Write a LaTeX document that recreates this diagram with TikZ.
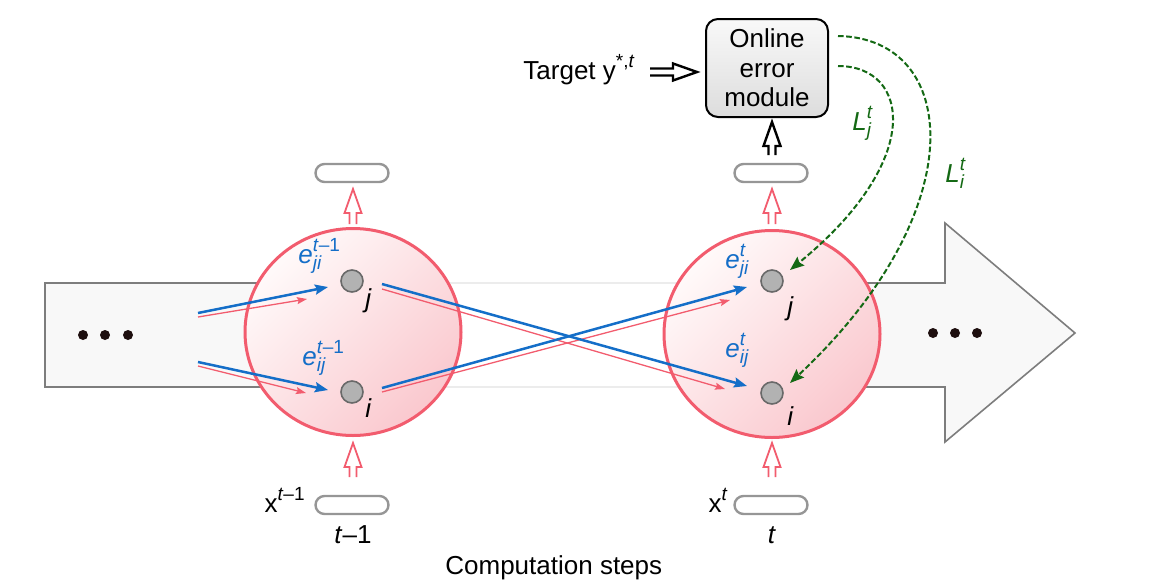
\documentclass[tikz,border=0pt]{standalone}
\usepackage{fontspec}
\setmainfont{Liberation Sans}
\usetikzlibrary{arrows.meta,shapes.geometric,calc}

\definecolor{pinkc}{RGB}{242,92,110}
\definecolor{bluec}{RGB}{20,110,200}
\definecolor{greenc}{RGB}{20,105,20}
\definecolor{arrowgray}{RGB}{125,125,125}
\definecolor{arrowfill}{RGB}{248,248,248}
\definecolor{faintgray}{RGB}{236,236,236}
\definecolor{circA}{RGB}{255,250,250}
\definecolor{circB}{RGB}{250,200,206}
\definecolor{nodefill}{RGB}{178,178,178}
\definecolor{nodeedge}{RGB}{105,105,105}
\definecolor{pillgray}{RGB}{150,150,150}
\definecolor{dotc}{RGB}{30,15,15}

\newdimen\SSw
\newcommand\SupSub[3]{#1\setbox0=\hbox{\fontsize{9.5}{10}\selectfont #2}\setbox2=\hbox{\fontsize{9.5}{10}\selectfont #3}%
\ifdim\wd0>\wd2 \SSw=\wd0 \else \SSw=\wd2 \fi
\rlap{\raisebox{6pt}{\box0}}\rlap{\raisebox{-3.2pt}{\box2}}\hskip\SSw}
\newcommand\Sup[1]{\raisebox{5.8pt}{\fontsize{9.5}{10}\selectfont #1}}
\newcommand\openarr[4]{\begin{scope}[shift={#1},rotate=#2]
\draw[#4] (0,-3.5) -- (#3,-3.5) -- (#3,-8.5) -- ({#3+24},0) -- (#3,8.5) -- (#3,3.5) -- (0,3.5);
\end{scope}}

\tikzset{
  bigarrow/.style={draw=arrowgray, line width=0.8pt, fill=arrowfill},
  bigcirc/.style={ellipse, minimum width=108pt, minimum height=103.5pt, draw=pinkc, line width=1.5pt,
     top color=circA, bottom color=circB, shading angle=45, inner sep=0},
  unit/.style={circle, minimum size=11pt, inner sep=0, fill=nodefill, draw=nodeedge, line width=0.8pt},
  pill/.style={rectangle, rounded corners=4.5pt, minimum width=36.5pt, minimum height=9pt, draw=pillgray,
     line width=1.2pt, fill=white, inner sep=0},
  errbox/.style={rectangle, rounded corners=6pt, minimum width=61pt, minimum height=49pt, draw=black,
     line width=1pt, top color=gray!5, bottom color=gray!27, inner sep=0, align=center,
     font=\fontsize{13}{14.8}\selectfont},
  dot/.style={circle, fill=dotc, minimum size=5pt, inner sep=0},
  lbl/.style={inner sep=0, anchor=base west},
  blueline/.style={draw=bluec, line width=1.25pt, -{Stealth[length=6.5pt,width=5pt,inset=1pt]}},
  pinkline/.style={draw=pinkc, line width=0.65pt, -{Stealth[length=5pt,width=3.5pt,inset=0.8pt]}},
  greenarr/.style={draw=greenc, line width=1pt, dash pattern=on 2.8pt off 1.3pt,
     -{Stealth[length=7pt,width=5.5pt,inset=1pt]}},
  pinkopen/.style={draw=pinkc, line width=0.9pt, fill=white},
  blackopen/.style={draw=black, line width=1.2pt, fill=white},
}

\begin{document}
\begin{tikzpicture}[x=0.5pt,y=-0.5pt, font=\fontsize{13}{15}\selectfont]
\useasboundingbox (0,0) rectangle (1167,584);

% big background arrow
\draw[bigarrow] (354,283) -- (45,283) -- (45,387) -- (354,387);
\draw[faintgray, line width=0.8pt] (354,283) -- (772,283) (354,387) -- (772,387);
\draw[bigarrow] (772,283) -- (945,283) -- (945,223) -- (1075,333) -- (945,442) -- (945,387) -- (772,387);
\node[dot] (d1) at (83,335) {};
\node[dot] (d2) at (105,335) {};
\node[dot] (d3) at (128,335) {};
\node[dot] (d4) at (933,333) {};
\node[dot] (d5) at (955,333) {};
\node[dot] (d6) at (977,333) {};

% computation steps
\node[bigcirc] (cL) at (353,332) {};
\node[bigcirc] (cR) at (772,334) {};

\node[pill] (pTL) at (352,173) {};
\node[pill] (pTR) at (771,173) {};
\node[pill] (pBL) at (352,505) {};
\node[pill] (pBR) at (771,505) {};

\openarr{(353,224)}{90}{11}{pinkopen}
\openarr{(772,224)}{90}{11}{pinkopen}
\openarr{(353,477)}{90}{10}{pinkopen}
\openarr{(772,477)}{90}{10}{pinkopen}
\openarr{(772,155)}{90}{9}{blackopen}
\openarr{(650,72)}{0}{23}{blackopen}

\node[unit] (jL) at (352,281) {};
\node[unit] (iL) at (352,392) {};
\node[unit] (jR) at (772,281) {};
\node[unit] (iR) at (772,393) {};

% weight arrows
\coordinate (inJb) at (198,313);
\coordinate (inJp) at (198,317);
\coordinate (inIb) at (198,362);
\coordinate (inIp) at (198,366);
\coordinate (outJb) at (382,284);
\coordinate (outJp) at (382,289);
\coordinate (outIb) at (382,388);
\coordinate (outIp) at (382,392);

\draw[pinkline] (inJp) -- (307,299);
\draw[pinkline] (inIp) -- (306,393);
\draw[pinkline] (outJp) -- (725,389);
\draw[pinkline] (outIp) -- (730,300);
\draw[blueline] (inJb) -- (328,287);
\draw[blueline] (inIb) -- (328,390);
\draw[blueline] (outJb) -- (747,386);
\draw[blueline] (outIb) -- (747,287);

% labels
\node[lbl] (ljL) at (365,307) {\textit{j}};
\node[lbl] (liL) at (365,417) {\textit{i}};
\node[lbl] (ljR) at (787,315) {\textit{j}};
\node[lbl] (liR) at (787,425) {\textit{i}};

\node[lbl, text=bluec] (eL1) at (298,263) {\SupSub{\textit{e}}{\textit{t}–1}{\textit{ji}}};
\node[lbl, text=bluec] (eL2) at (302,365) {\SupSub{\textit{e}}{\textit{t}–1}{\textit{ij}}};
\node[lbl, text=bluec] (eR1) at (725,268) {\SupSub{\textit{e}}{\textit{t}}{\textit{ji}}};
\node[lbl, text=bluec] (eR2) at (725,357) {\SupSub{\textit{e}}{\textit{t}}{\textit{ij}}};

\node[inner sep=0, anchor=base east] (xL) at (305,512) {x\Sup{\textit{t}–1}};
\node[inner sep=0, anchor=base east] (xR) at (728,512) {x\Sup{\textit{t}}};
\node[inner sep=0, anchor=base] (tL) at (353,543) {\textit{t}–1};
\node[inner sep=0, anchor=base] (tR) at (772,543) {\textit{t}};
\node[lbl] (cs) at (445,574) {Computation steps};

% error module
\node[errbox] (box) at (767,68) {Online\\error\\module};
\node[lbl] (target) at (523,79) {Target y\Sup{*,\textit{t}}};

\coordinate (gJ) at (838,66);
\coordinate (gI) at (838,36);
\draw[greenarr] (gJ) .. controls (910,66) and (925,160) .. (790,270);
\draw[greenarr] (gI) .. controls (960,38) and (975,210) .. (790,383);
\node[lbl, text=greenc] (Lj) at (852,130) {\SupSub{\textit{L}}{\textit{t}}{\textit{j}}};
\node[lbl, text=greenc] (Li) at (945,182) {\SupSub{\textit{L}}{\textit{t}}{\textit{i}}};
\end{tikzpicture}
\end{document}
